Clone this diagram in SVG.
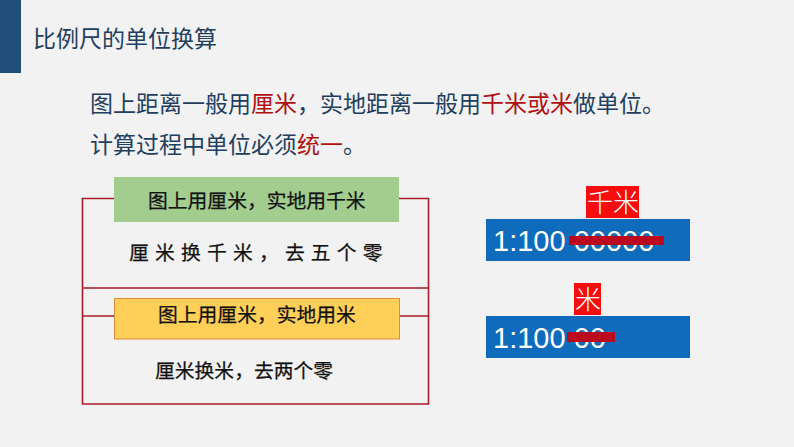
<svg xmlns="http://www.w3.org/2000/svg" width="794" height="447" viewBox="0 0 794 447">
<style>
text{font-family:"Noto Sans CJK SC","Liberation Sans",sans-serif}
.h{fill:#1f3f60;font-size:23px}
.r{fill:#b01010}
.b{fill:#111;font-size:19.800px;stroke:#111;stroke-width:.25}
.f{fill:none;stroke:#a81c28;stroke-width:1.600}
.n{fill:#fff;font-size:29px;font-family:"Liberation Sans",sans-serif}
.z{fill:#fff;font-size:26px;font-weight:300}
.band{fill:#0f6cbd}
.red{fill:#f70d0d}
.s{fill:#bb0a1e}
</style>
<rect width="794" height="447" fill="#f2f2f2"/>
<g id="header">
<rect x="0" y="0" width="21" height="73" fill="#1f4e79"/>
<text x="33" y="47" class="h">比例尺的单位换算</text>
</g>
<g id="intro">
<text x="90" y="112" class="h">图上距离一般用<tspan class="r">厘米</tspan>&#xFF0C;实地距离一般用<tspan class="r">千米或米</tspan>做单位。</text>
<text x="90" y="153" class="h">计算过程中单位必须<tspan class="r">统一</tspan>。</text>
</g>
<g id="connectors">
<path class="f" d="M114 198.500H82.500V288H428.500V198.500H399M82.500 288V404H428.500V288M114 316H82.500M399 316H428.500"/>
</g>
<g id="node-km">
<rect x="114" y="177" width="285" height="45" fill="#a2cd8e"/>
<text x="148" y="208" class="b">图上用厘米&#xFF0C;实地用千米</text>
<text x="129" y="260" class="b" letter-spacing="6.200">厘米换千米&#xFF0C;去五个零</text>
</g>
<g id="node-m">
<rect x="114.500" y="298.500" width="285" height="40.500" fill="#ffcf58" stroke="#e08a3c"/>
<text x="158" y="322" class="b">图上用厘米&#xFF0C;实地用米</text>
<text x="155" y="378" class="b">厘米换米&#xFF0C;去两个零</text>
</g>
<g id="scale-km">
<rect x="486" y="219" width="204" height="42" class="band"/>
<text x="493" y="251" class="n">1:100 00000</text>
<rect x="569" y="236" width="95" height="9" class="s"/>
<rect x="586" y="186" width="53" height="32" class="red"/>
<text x="587" y="212" class="z">千米</text>
</g>
<g id="scale-m">
<rect x="486" y="316" width="204" height="42" class="band"/>
<text x="493" y="348" class="n">1:100 00</text>
<rect x="567" y="332" width="48" height="10" class="s"/>
<rect x="574" y="283" width="27" height="32" class="red"/>
<text x="575" y="309" class="z">米</text>
</g>
</svg>
